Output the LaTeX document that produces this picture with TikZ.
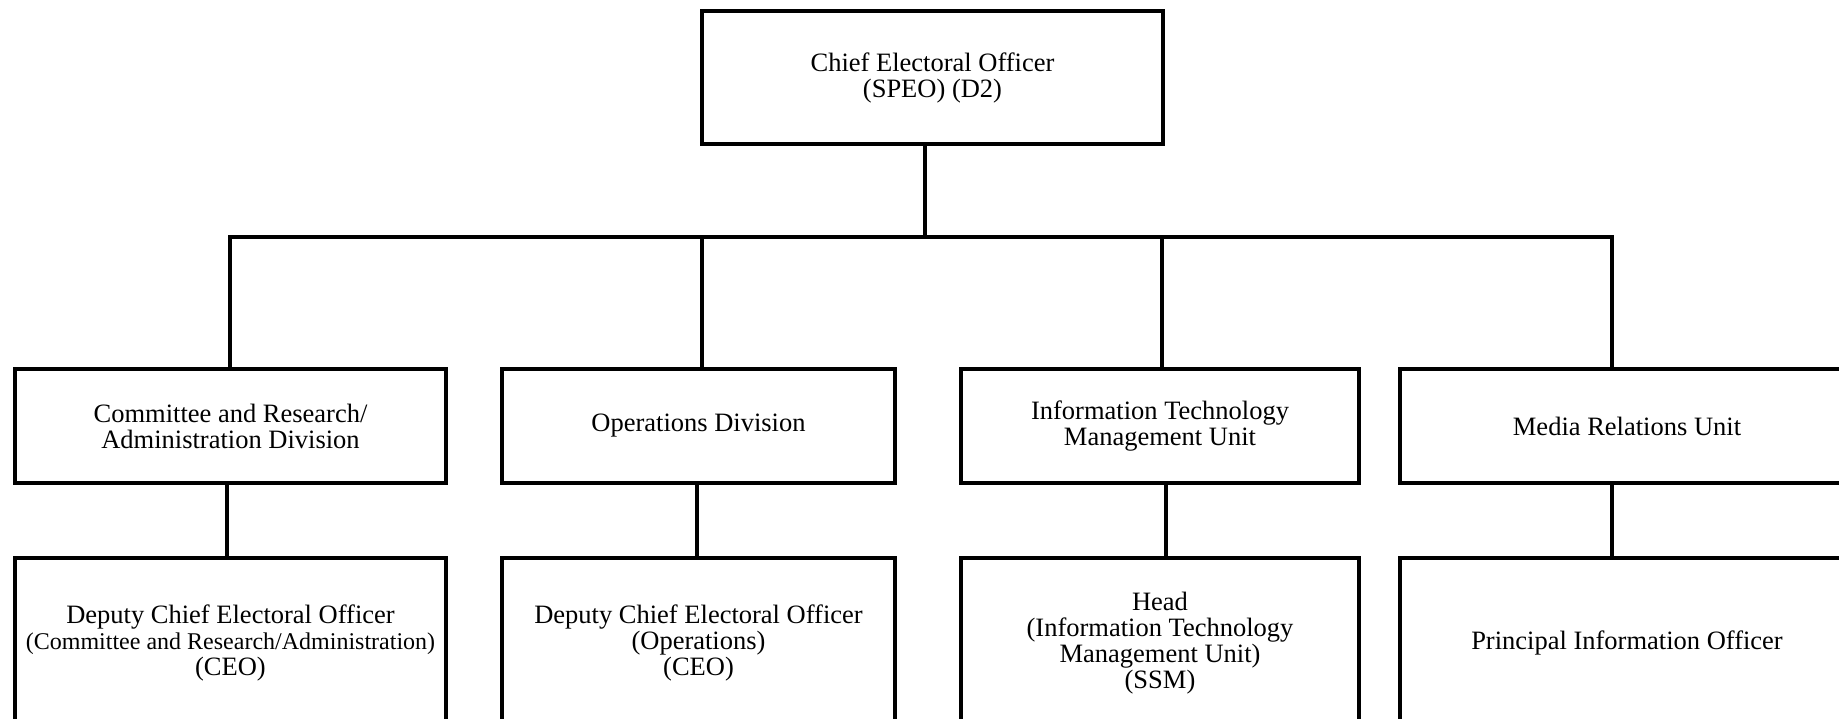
\documentclass[tikz,border=0pt]{standalone}
\usepackage{fontspec}
\setmainfont{Liberation Serif}
\begin{document}
\begin{tikzpicture}[x=1pt,y=-1pt,
  box/.style={draw, line width=4pt, rectangle, align=center, inner sep=0pt,
    font=\fontsize{26.5}{26}\selectfont},
  rowbox/.style={box, minimum height=114pt},
  lowbox/.style={box, minimum height=170pt},
  conn/.style={line width=4pt, line join=miter}]
\useasboundingbox (0,0) rectangle (1839,719);
\clip (0,0) rectangle (1839,719);
% top
\node[box, minimum width=461pt, minimum height=133pt] (top) at (932.5,77.5)
  {Chief Electoral Officer\\(SPEO) (D2)};
% first row
\node[rowbox, minimum width=431pt] (cra) at (230.5,426)
  {Committee and Research/\\Administration Division};
\node[rowbox, minimum width=393pt] (ops) at (698.5,426) {Operations Division};
\node[rowbox, minimum width=398pt] (it) at (1160,426)
  {Information Technology\\Management Unit};
\node[rowbox, minimum width=454pt] (med) at (1627,426) {Media Relations Unit};
% second row
\node[lowbox, minimum width=431pt] (crad) at (230.5,643)
  {Deputy Chief Electoral Officer\\{\fontsize{24}{26}\selectfont (Committee and Research/Administration)}\\(CEO)};
\node[lowbox, minimum width=393pt] (opsd) at (698.5,643)
  {Deputy Chief Electoral Officer\\(Operations)\\(CEO)};
\node[lowbox, minimum width=398pt] (itd) at (1160,643)
  {Head\\(Information Technology\\Management Unit)\\(SSM)};
\node[lowbox, minimum width=454pt] (medd) at (1627,643)
  {Principal Information Officer};
% bus coordinates
\coordinate (bt) at (925,237);
\coordinate (b1) at (230,237);
\coordinate (b2) at (702,237);
\coordinate (b3) at (1162,237);
\coordinate (b4) at (1612,237);
\draw[conn] (top.south -| bt) -- (bt);
\draw[conn] (b1 |- cra.north) -- (b1) -- (b4) -- (b4 |- med.north);
\draw[conn] (b2) -- (b2 |- ops.north);
\draw[conn] (b3) -- (b3 |- it.north);
% lower connectors
\coordinate (l1) at (227,520);
\coordinate (l2) at (697,520);
\coordinate (l3) at (1166,520);
\coordinate (l4) at (1612,520);
\draw[conn] (l1 |- cra.south) -- (l1 |- crad.north);
\draw[conn] (l2 |- ops.south) -- (l2 |- opsd.north);
\draw[conn] (l3 |- it.south) -- (l3 |- itd.north);
\draw[conn] (l4 |- med.south) -- (l4 |- medd.north);
\end{tikzpicture}
\end{document}
